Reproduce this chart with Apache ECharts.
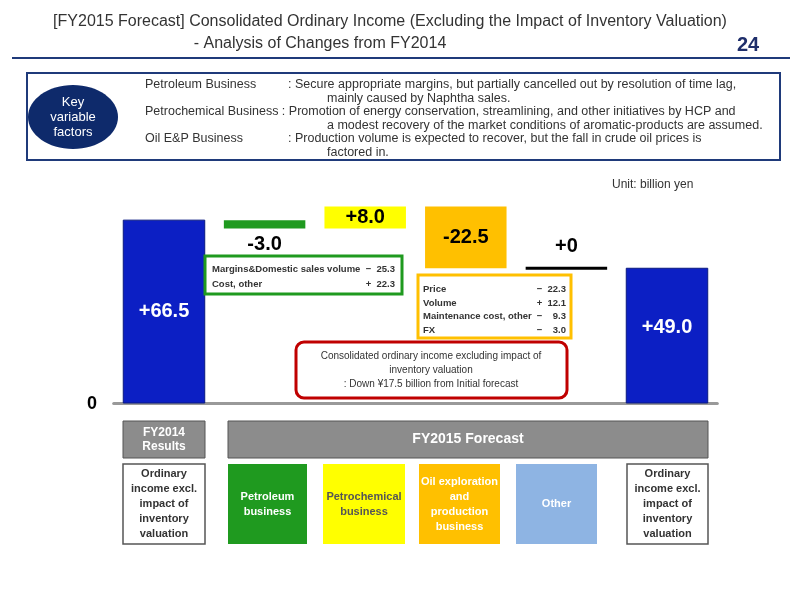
<!DOCTYPE html>
<html>
<head>
<meta charset="utf-8">
<title>FY2015 Forecast</title>
<script src="https://cdn.jsdelivr.net/npm/echarts@6/dist/echarts.min.js"></script>
<style>body{margin:0;background:#fff}#main{width:800px;height:600px}</style>
</head>
<body>
<div id="main"></div>
<script>
// data
var categories = ['FY2014', 'Petroleum', 'Petrochemical', 'OilEP', 'Other', 'FY2015'];
var changes = [66.5, -3.0, 8.0, -22.5, 0, 49.0]; // first and last are totals
var isTotal = [true, false, false, false, false, true];
var labels = ['+66.5', '-3.0', '+8.0', '-22.5', '+0', '+49.0'];
var colors = ['#0c1fc4', '#1f9a1f', '#ffff00', '#ffc000', '#000000', '#0c1fc4'];

// build start/end of each step
var steps = [];
var run = 0;
for (var i = 0; i < changes.length; i++) {
  if (isTotal[i]) { steps.push([i, 0, changes[i]]); run = changes[i]; }
  else { steps.push([i, run, run + changes[i]]); run += changes[i]; }
}

var chart = echarts.init(document.getElementById('main'));
var F = 'Liberation Sans, Arial, sans-serif';
function t(x, y, s, o) {
  var st = Object.assign({ x: x, y: y, text: s, font: '12.5px ' + F, fill: '#333' }, o || {});
  return { type: 'text', style: st, z: 10 };
}
function box(x, y, w, h, fill, stroke, lw, r) {
  return { type: 'rect', shape: { x: x, y: y, width: w, height: h, r: r || 0 }, style: { fill: fill, stroke: stroke, lineWidth: lw || 0 }, z: 5 };
}
var ctr = { textAlign: 'center', textVerticalAlign: 'middle' };
function lbox(x, y, w, h, fill, stroke, txt, col) {
  return [box(x, y, w, h, fill, stroke, stroke ? 1.5 : 0),
    t(x + w / 2, y + h / 2, txt, Object.assign({ font: 'bold 11px ' + F, fill: col, lineHeight: 15 }, ctr))];
}

var g = [
  t(390, 22, '[FY2015 Forecast] Consolidated Ordinary Income (Excluding the Impact of Inventory Valuation)', Object.assign({ font: '16px ' + F, fill: '#333' }, ctr)),
  t(320, 44, '- Analysis of Changes from FY2014', Object.assign({ font: '16px ' + F, fill: '#333' }, ctr)),
  t(748, 45, '24', Object.assign({ font: 'bold 20px ' + F, fill: '#1f2f6b' }, ctr)),
  { type: 'rect', shape: { x: 12, y: 57, width: 778, height: 2 }, style: { fill: '#1f3a7a' } },
  box(27, 73, 753, 87, '#fff', '#1f3a7a', 2),
  { type: 'ellipse', shape: { cx: 73, cy: 117, rx: 45, ry: 32 }, style: { fill: '#0e2a6b' }, z: 6 },
  t(73, 117, 'Key\nvariable\nfactors', Object.assign({ font: '13px ' + F, fill: '#fff', lineHeight: 15 }, ctr)),
  t(145, 78, 'Petroleum Business'),
  t(288, 78, ': Secure appropriate margins, but partially cancelled out by resolution of time lag,'),
  t(327, 92, 'mainly caused by Naphtha sales.'),
  t(145, 105, 'Petrochemical Business : Promotion of energy conservation, streamlining, and other initiatives by HCP and'),
  t(327, 119, 'a modest recovery of the market conditions of aromatic-products are assumed.'),
  t(145, 132, 'Oil E&P Business'),
  t(288, 132, ': Production volume is expected to recover, but the fall in crude oil prices is'),
  t(327, 146, 'factored in.'),
  t(612, 179, 'Unit: billion yen', { font: '12px ' + F }),
  t(92, 404, '0', Object.assign({ font: 'bold 18px ' + F, fill: '#000' }, ctr)),
  box(205, 256, 197, 38, '#fff', '#1f9a1f', 3),
  t(212, 264, 'Margins&Domestic sales volume', { font: 'bold 9.5px ' + F }),
  t(212, 279, 'Cost, other', { font: 'bold 9.5px ' + F }),
  t(395, 264, '−  25.3', { font: 'bold 9.5px ' + F, textAlign: 'right' }),
  t(395, 279, '+  22.3', { font: 'bold 9.5px ' + F, textAlign: 'right' }),
  box(418, 275, 153, 63, '#fff', '#ffc000', 3),
  t(423, 283, 'Price\nVolume\nMaintenance cost, other\nFX', { font: 'bold 9.5px ' + F, lineHeight: 13.5 }),
  t(566, 283, '−  22.3\n+  12.1\n−    9.3\n−    3.0', { font: 'bold 9.5px ' + F, lineHeight: 13.5, textAlign: 'right' }),
  box(296, 342, 271, 56, '#fff', '#c00000', 3, 8),
  t(431, 370, 'Consolidated ordinary income excluding impact of\ninventory valuation\n: Down ¥17.5 billion from Initial forecast', Object.assign({ font: '10px ' + F, lineHeight: 14 }, ctr)),
  box(123, 421, 82, 37, '#8c8c8c', '#555', 1)
];
g.push(t(164, 439.5, 'FY2014\nResults', Object.assign({ font: 'bold 12px ' + F, fill: '#fff', lineHeight: 14 }, ctr)));
g.push(box(228, 421, 480, 37, '#8c8c8c', '#555', 1));
g.push(t(468, 439.5, 'FY2015 Forecast', Object.assign({ font: 'bold 14px ' + F, fill: '#fff' }, ctr)));
g = g.concat(
  lbox(123, 464, 82, 80, '#fff', '#555', 'Ordinary\nincome excl.\nimpact of\ninventory\nvaluation', '#333'),
  lbox(228, 464, 79, 80, '#1f9a1f', null, 'Petroleum\nbusiness', '#fff'),
  lbox(323, 464, 82, 80, '#ffff00', null, 'Petrochemical\nbusiness', '#555'),
  lbox(419, 464, 81, 80, '#ffc000', null, 'Oil exploration\nand\nproduction\nbusiness', '#fff'),
  lbox(516, 464, 81, 80, '#8eb4e3', null, 'Other', '#fff'),
  lbox(627, 464, 81, 80, '#fff', '#555', 'Ordinary\nincome excl.\nimpact of\ninventory\nvaluation', '#333')
);

// label placement per bar (offset from bar top, px)
var labelPos = [
  { where: 'mid', col: '#fff', dy: 0 },
  { where: 'below', col: '#000', dy: 16 },
  { where: 'top', col: '#000', dy: 11 },
  { where: 'top', col: '#000', dy: 31 },
  { where: 'above', col: '#000', dy: -20 },
  { where: 'mid', col: '#fff', dy: -8 }
];

chart.setOption({
  animation: false,
  grid: { left: 113.7, right: 82.7, top: 183, bottom: 197 },
  xAxis: {
    type: 'category', data: categories,
    axisLine: { lineStyle: { color: '#999', width: 3 } },
    axisTick: { show: false }, axisLabel: { show: false }
  },
  yAxis: { type: 'value', min: 0, max: 80, show: false, splitLine: { show: false } },
  graphic: g,
  series: [{
    type: 'custom',
    data: steps,
    renderItem: function (params, api) {
      var i = api.value(0);
      var p0 = api.coord([i, api.value(1)]);
      var p1 = api.coord([i, api.value(2)]);
      var w = api.size([1, 0])[0] * 0.81;
      var top = Math.min(p0[1], p1[1]);
      var h = Math.abs(p0[1] - p1[1]);
      if (h < 1) { h = 3; top -= 1.5; }
      var lp = labelPos[i];
      var ly;
      if (lp.where === 'mid') ly = top + h / 2 + lp.dy;
      else if (lp.where === 'below') ly = top + h + lp.dy;
      else ly = top + lp.dy;
      return {
        type: 'group',
        children: [
          { type: 'rect', shape: { x: p0[0] - w / 2, y: top, width: w, height: h },
            style: { fill: colors[i], stroke: (i === 0 || i === 5) ? '#0a1a80' : null, lineWidth: 1 } },
          { type: 'text', z2: 10, style: { x: p0[0], y: ly, text: labels[i], fill: lp.col,
            font: 'bold 20px ' + F, textAlign: 'center', textVerticalAlign: 'middle' } }
        ]
      };
    }
  }]
});
</script>
</body>
</html>
